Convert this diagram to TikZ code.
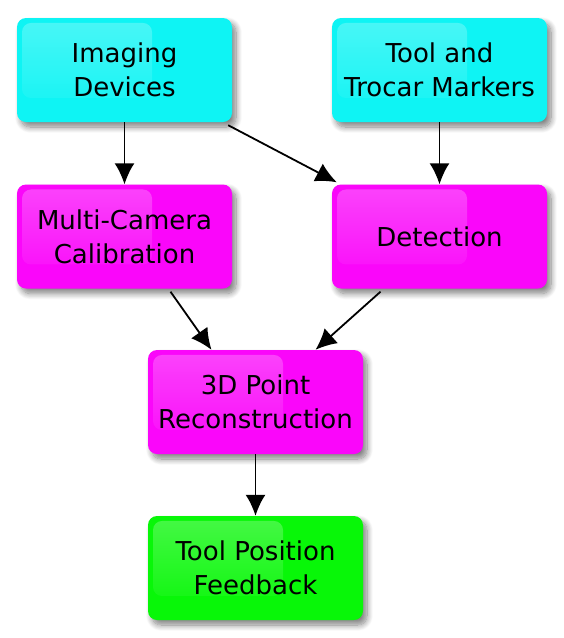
\documentclass[tikz,border=0pt]{standalone}
\usepackage{fontspec}
\setmainfont{DejaVu Sans}
\usepackage{tikz}
\usetikzlibrary{shadows.blur, fadings, arrows.meta}

\definecolor{devcyan}{RGB}{14,244,244}
\definecolor{procmag}{RGB}{250,6,250}
\definecolor{outgreen}{RGB}{8,247,8}

\tikzset{
    flowbox/.style={rounded corners=9pt, minimum width=215pt, minimum height=104pt,
        align=center, font=\fontsize{26}{34}\selectfont, text=black,
        blur shadow={shadow xshift=4pt, shadow yshift=-5pt, shadow blur steps=10, shadow blur radius=6pt, shadow opacity=50},
        path picture={
            \fill[white, opacity=0.25, path fading=south, rounded corners=9pt]
                ([xshift=5pt,yshift=-5pt]path picture bounding box.north west)
                rectangle ++(130pt,-75pt);
        }},
    flowarrow/.style={-{Latex[length=21pt,width=20pt]}, line width=1.8pt, black}
}

\begin{document}
\begin{tikzpicture}[x=1pt, y=-1pt]
    \useasboundingbox (0,0) rectangle (564,638);

    % inputs
    \node[flowbox, fill=devcyan] (imaging) at (124.5,70) {Imaging\\Devices};
    \node[flowbox, fill=devcyan] (markers) at (439.5,70) {Tool and\\Trocar Markers};

    % processing
    \node[flowbox, fill=procmag] (calib) at (124.5,236.5) {Multi-Camera\\Calibration};
    \node[flowbox, fill=procmag] (detect) at (439.5,236.5) {Detection};
    \node[flowbox, fill=procmag] (recon) at (255.5,402) {3D Point\\Reconstruction};

    % output
    \node[flowbox, fill=outgreen] (feedback) at (255.5,568) {Tool Position\\Feedback};

    \draw[flowarrow] (imaging) -- (calib);
    \draw[flowarrow] (imaging.south east) ++(-4,3) -- ([xshift=5pt,yshift=2pt]detect.north west);
    \draw[flowarrow] (markers) -- (detect);
    \draw[flowarrow] ([xshift=46pt,yshift=-3pt]calib.south) -- ([xshift=-44pt]recon.north);
    \draw[flowarrow] ([xshift=-59pt,yshift=-3pt]detect.south) -- ([xshift=60pt]recon.north);
    \draw[flowarrow] (recon) -- (feedback);
\end{tikzpicture}
\end{document}
